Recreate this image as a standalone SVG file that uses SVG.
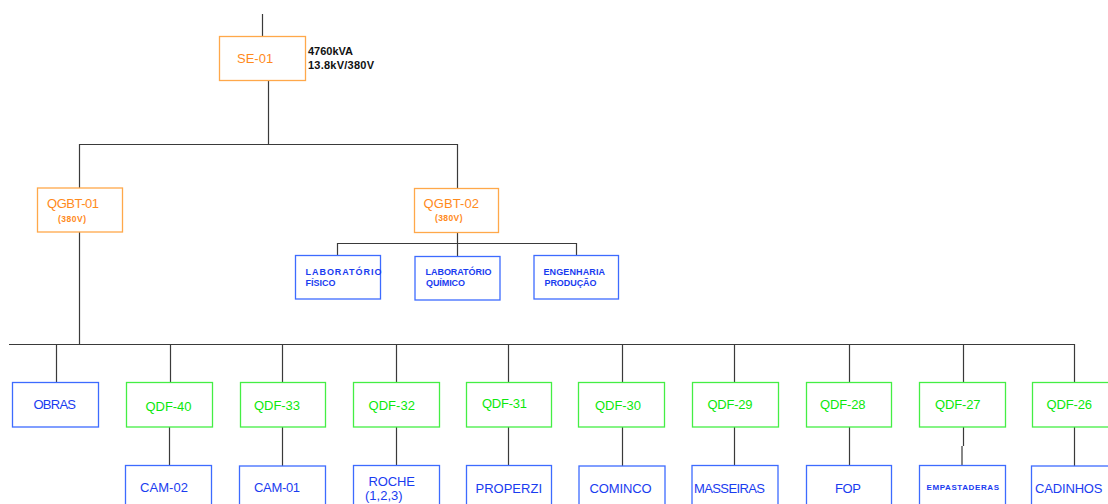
<svg xmlns="http://www.w3.org/2000/svg" width="1108" height="504" viewBox="0 0 1108 504">
<style>
text{font-family:"Liberation Sans",Arial,sans-serif}
.bo{fill:#fff;stroke:#FFA84A;stroke-width:1.3}
.bg{fill:#fff;stroke:#44EE44;stroke-width:1.3}
.bb{fill:#fff;stroke:#3D6BFF;stroke-width:1.3}
.to{fill:#FF8A1C;font-size:13px}
.tos{fill:#FF8A1C;font-size:8.5px;font-weight:bold}
.tg{fill:#0CE80C;font-size:13px}
.tb{fill:#1A3CF0;font-size:13px}
.tbs{fill:#1A3CF0;font-size:9px;font-weight:bold}
.tbe{fill:#1A3CF0;font-size:8px;font-weight:bold}
.tk{fill:#111;font-size:11px;font-weight:bold}
.c{stroke:#3a3a3a;stroke-width:1.2;fill:none}
</style>
<rect width="1108" height="504" fill="#fff"/>
<g id="connectors">
<path class="c" d="M262.5 14V36.5M268.5 80.5V144.5M79 144.5H457.5M79.5 144V188M457.5 144V188.5"/>
<path class="c" d="M457.5 232.5V243.5M337.5 243.5H576.5M337.5 243V256M457.5 243V256.5M576.5 243V256"/>
<path class="c" d="M79.5 232V344.5M9 344.5H1075"/>
<path class="c" d="M56.5 344V383M170.5 344V383M282.5 344V383M396.5 344V383M508.5 344V383M622.5 344V383M734.5 344V383M849.5 344V383M963.5 344V383M1074.5 344V383"/>
<path class="c" d="M169.5 427V466M282.5 427V466M396.5 427V466M508.5 427V466M622.5 427V466M734.5 427V466M849.5 427V466M963.5 427V446M962 446V466M1074.5 427V466"/>
</g>
<g id="se01"><rect class="bo" x="219.5" y="36.5" width="86" height="44"/><text class="to" x="237" y="63">SE-01</text></g>
<g id="se01-label"><text class="tk" x="308" y="55">4760kVA</text><text class="tk" x="308" y="69" textLength="66">13.8kV/380V</text></g>
<g id="qgbt01"><rect class="bo" x="37.5" y="188" width="85" height="44"/><text class="to" x="47" y="208" textLength="52">QGBT-01</text><text class="tos" x="58" y="222" textLength="28">(380V)</text></g>
<g id="qgbt02"><rect class="bo" x="414.5" y="188.5" width="84" height="44"/><text class="to" x="423.5" y="208" textLength="55.5">QGBT-02</text><text class="tos" x="435" y="221" textLength="27.5">(380V)</text></g>
<g id="lab-fisico"><rect class="bb" x="295.5" y="255.5" width="85" height="43.5"/><text class="tbs" x="305.5" y="274.5" textLength="76">LABORATÓRIO</text><text class="tbs" x="305.5" y="286" textLength="30">FÍSICO</text></g>
<g id="lab-quimico"><rect class="bb" x="415" y="256.5" width="85" height="43.5"/><text class="tbs" x="425.5" y="274.5" textLength="66">LABORATÓRIO</text><text class="tbs" x="426" y="286" textLength="39">QUÍMICO</text></g>
<g id="eng-producao"><rect class="bb" x="534" y="255.5" width="84.5" height="43.5"/><text class="tbs" x="543.5" y="274.5" textLength="61.5">ENGENHARIA</text><text class="tbs" x="544.5" y="286" textLength="52">PRODUÇÃO</text></g>
<g id="obras"><rect class="bb" x="12.5" y="382.5" width="86" height="44.5"/><text class="tb" x="33.5" y="409" textLength="42.5">OBRAS</text></g>
<g id="qdf40"><rect class="bg" x="126.5" y="382.5" width="86" height="44.5"/><text class="tg" x="145.5" y="411" textLength="46">QDF-40</text></g>
<g id="qdf33"><rect class="bg" x="240.5" y="382.5" width="85" height="44.5"/><text class="tg" x="254" y="410" textLength="46">QDF-33</text></g>
<g id="qdf32"><rect class="bg" x="353.5" y="382.5" width="86" height="44.5"/><text class="tg" x="368.5" y="410" textLength="46.5">QDF-32</text></g>
<g id="qdf31"><rect class="bg" x="466.5" y="382.5" width="85" height="44.5"/><text class="tg" x="482" y="408" textLength="45">QDF-31</text></g>
<g id="qdf30"><rect class="bg" x="578.5" y="382.5" width="86" height="44.5"/><text class="tg" x="595" y="410" textLength="46">QDF-30</text></g>
<g id="qdf29"><rect class="bg" x="692.5" y="382.5" width="86" height="44.5"/><text class="tg" x="707.5" y="408.5" textLength="45">QDF-29</text></g>
<g id="qdf28"><rect class="bg" x="806.5" y="382.5" width="85" height="44.5"/><text class="tg" x="820" y="408.5" textLength="45.5">QDF-28</text></g>
<g id="qdf27"><rect class="bg" x="919.5" y="382.5" width="86" height="44.5"/><text class="tg" x="935" y="408.5" textLength="45.5">QDF-27</text></g>
<g id="qdf26"><rect class="bg" x="1032.5" y="382.5" width="86" height="44.5"/><text class="tg" x="1046.5" y="408.5" textLength="45.5">QDF-26</text></g>
<g id="cam02"><rect class="bb" x="125.5" y="465.5" width="86" height="50"/><text class="tb" x="140" y="492" textLength="48">CAM-02</text></g>
<g id="cam01"><rect class="bb" x="239.5" y="466" width="86" height="50"/><text class="tb" x="254" y="492" textLength="46">CAM-01</text></g>
<g id="roche"><rect class="bb" x="353.5" y="465.5" width="86" height="50"/><text class="tb" x="368.5" y="485.5" textLength="46.5">ROCHE</text><text class="tb" x="365" y="499.5">(1,2,3)</text></g>
<g id="properzi"><rect class="bb" x="466.5" y="465.5" width="85" height="50"/><text class="tb" x="475.5" y="492.5" textLength="66.5">PROPERZI</text></g>
<g id="cominco"><rect class="bb" x="579" y="466" width="86" height="50"/><text class="tb" x="589.5" y="492.5" textLength="62">COMINCO</text></g>
<g id="masseiras"><rect class="bb" x="692" y="465.5" width="86" height="50"/><text class="tb" x="694" y="492.5" textLength="71">MASSEIRAS</text></g>
<g id="fop"><rect class="bb" x="806.5" y="465.5" width="85" height="50"/><text class="tb" x="835" y="492.5" textLength="26">FOP</text></g>
<g id="empastaderas"><rect class="bb" x="919.5" y="465.5" width="86" height="50"/><text class="tbe" x="926.5" y="490" textLength="72.5">EMPASTADERAS</text></g>
<g id="cadinhos"><rect class="bb" x="1031.5" y="466" width="86" height="50"/><text class="tb" x="1035" y="492.5" textLength="67.5">CADINHOS</text></g>
</svg>
